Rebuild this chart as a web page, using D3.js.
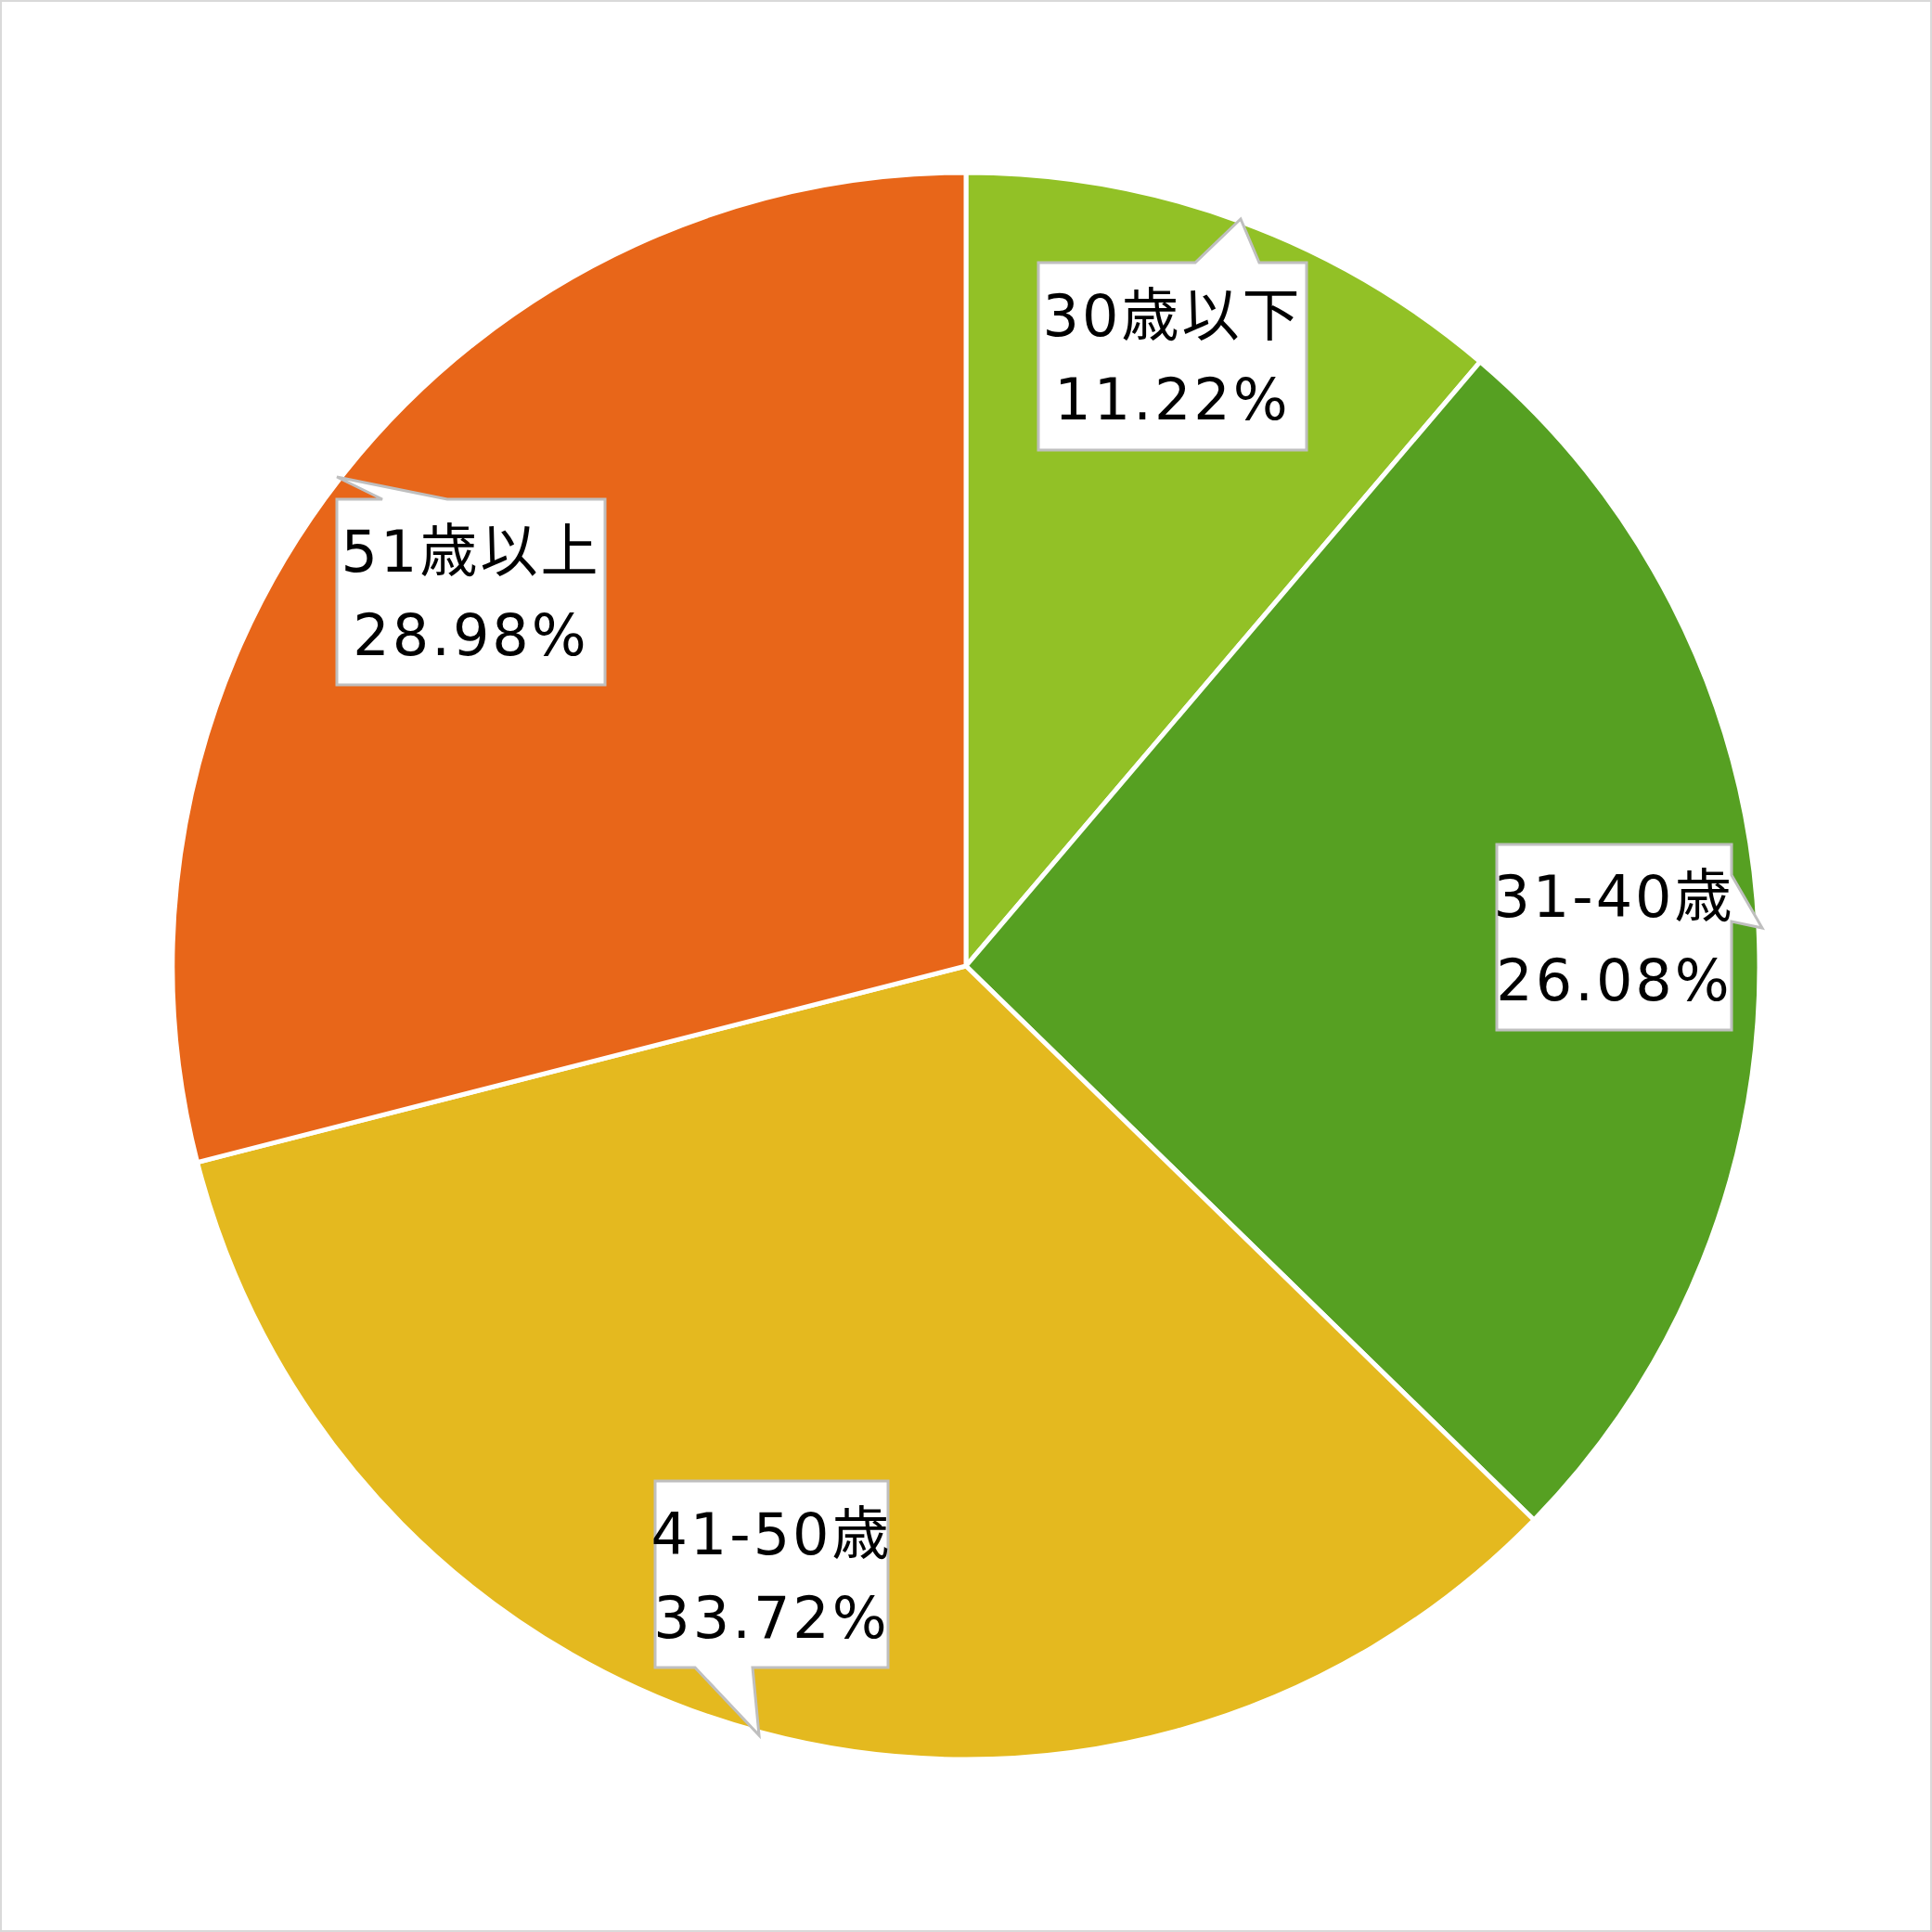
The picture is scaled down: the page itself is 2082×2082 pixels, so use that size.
<!DOCTYPE html>
<html>
<head>
<meta charset="UTF-8">
<script src="https://d3js.org/d3.v7.min.js"></script>
<style>body{margin:0;background:#fff}</style>
</head>
<body>
<svg id="chart" width="2082" height="2082"></svg>
<script>
  const categories = ["30歳以下", "31-40歳", "41-50歳", "51歳以上"];
  const values = [11.22, 26.08, 33.72, 28.98];
  const colors = ["#92C126", "#56A022", "#E4B91F", "#E86619"];

  // callout layout: box [x0,y0,x1,y1], side of pointer, base span, tip
  const callouts = [
    {box:[1119,283,1408,485], side:"top", base:[1288,1357], tip:[1337,236]},
    {box:[1613,910,1866,1110], side:"right", base:[943,993], tip:[1899,1000]},
    {box:[706,1596,957,1797], side:"bottom", base:[749,811], tip:[818,1870]},
    {box:[363,538,652,738], side:"top", base:[412,482], tip:[363,514]}
  ];

  const svg = d3.select("#chart");
  svg.append("rect").attr("x",1).attr("y",1).attr("width",2080).attr("height",2080)
    .attr("fill","#fff").attr("stroke","#d9d9d9").attr("stroke-width",2);

  const cx = 1041, cy = 1041, r = 855;
  const pie = d3.pie().sort(null).value(d => d);
  const arc = d3.arc().innerRadius(0).outerRadius(r);
  const g = svg.append("g").attr("transform", `translate(${cx},${cy})`);
  g.selectAll("path").data(pie(values)).join("path")
    .attr("d", arc).attr("fill", (d,i) => colors[i])
    .attr("stroke","#fff").attr("stroke-width",5).attr("stroke-linejoin","round");

  function calloutPath(c) {
    const [x0,y0,x1,y1] = c.box, [a,b] = c.base, [tx,ty] = c.tip;
    let p = [];
    if (c.side === "top") p = [[x0,y0],[a,y0],[tx,ty],[b,y0],[x1,y0],[x1,y1],[x0,y1]];
    if (c.side === "right") p = [[x0,y0],[x1,y0],[x1,a],[tx,ty],[x1,b],[x1,y1],[x0,y1]];
    if (c.side === "bottom") p = [[x0,y0],[x1,y0],[x1,y1],[b,y1],[tx,ty],[a,y1],[x0,y1]];
    return "M" + p.map(q => q.join(",")).join("L") + "Z";
  }

  callouts.forEach((c, i) => {
    svg.append("path").attr("d", calloutPath(c))
      .attr("fill","#fff").attr("stroke","#bfbfbf").attr("stroke-width",3);
    const mx = (c.box[0] + c.box[2]) / 2, my = (c.box[1] + c.box[3]) / 2;
    const t = svg.append("text").attr("text-anchor","middle")
      .attr("font-family","'DejaVu Sans', 'Noto Sans CJK JP', sans-serif")
      .attr("font-size",62).attr("fill","#000").attr("letter-spacing",3);
    t.append("tspan").attr("x",mx).attr("y",my-22).text(categories[i]);
    t.append("tspan").attr("x",mx).attr("y",my+68).text(values[i].toFixed(2) + "%");
  });
</script>
</body>
</html>
